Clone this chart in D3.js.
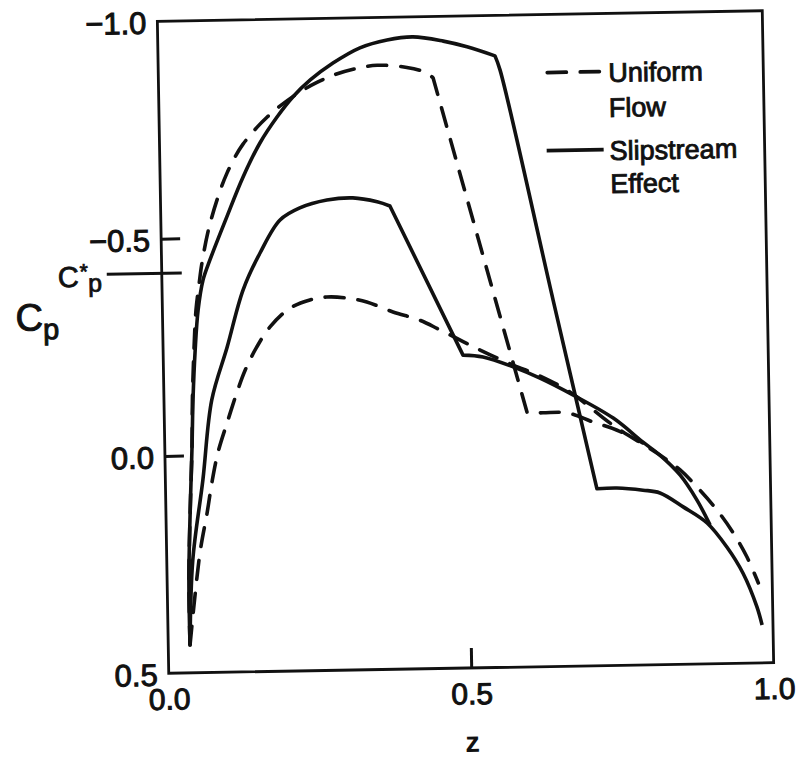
<!DOCTYPE html>
<html><head><meta charset="utf-8">
<script src="https://cdn.jsdelivr.net/npm/d3@7"></script>
<style>
html,body{margin:0;padding:0;background:#fff;}
svg{display:block;}
text{font-family:"Liberation Sans",Arial,Helvetica,sans-serif;fill:#111;}
</style></head><body>
<svg id="chart" width="804" height="758"></svg>
<script>
// ---- data ----
const zTicks = [0.0, 0.5, 1.0];
const zTickLabels = ["0.0", "0.5", "1.0"];
const cpTicks = [-1.0, -0.5, 0.0, 0.5];
const cpTickLabels = ["\u22121.0", "\u22120.5", "0.0", "0.5"];
const cpStar = -0.42;
const legendLabels = [["Uniform", "Flow"], ["Slipstream", "Effect"]];

// Uniform flow, upper branch (peak ~ -0.89)
const uniformUpperZ  = [0.036,0.036,0.040,0.045,0.047,0.051,0.0555,0.0612,0.0667,0.0793,0.0986,0.1107,0.1245,0.138,0.1615,0.1784,0.200,0.2337,0.262,0.289,0.322,0.362,0.411,0.441,0.454,0.600,0.626,0.666,0.708,0.748,0.790];
const uniformUpperCp = [0.436,0.286,0.132,-0.019,-0.128,-0.242,-0.334,-0.392,-0.442,-0.523,-0.607,-0.648,-0.685,-0.714,-0.752,-0.775,-0.800,-0.832,-0.853,-0.869,-0.882,-0.890,-0.884,-0.872,-0.859,-0.084,-0.084,-0.083,-0.061,-0.041,-0.011];
const uniformUpperCorners = [0.454, 0.600];

// Uniform flow, lower branch (peak ~ -0.36)
const uniformLowerZ  = [0.036,0.055,0.068,0.077,0.088,0.104,0.121,0.135,0.155,0.177,0.211,0.244,0.272,0.305,0.338,0.381,0.425,0.458,0.524,0.578,0.622,0.671,0.741,0.813,0.851,0.883,0.911,0.937,0.959,0.977];
const uniformLowerCp = [0.436,0.225,0.133,0.062,-0.007,-0.075,-0.144,-0.194,-0.247,-0.292,-0.335,-0.353,-0.359,-0.356,-0.346,-0.322,-0.302,-0.279,-0.231,-0.195,-0.169,-0.131,-0.053,0.013,0.053,0.100,0.147,0.200,0.256,0.316];
const uniformLowerCorners = [];

// Slipstream effect, upper branch (peak ~ -0.95)
const slipUpperZ  = [0.036,0.036,0.040,0.045,0.048,0.053,0.059,0.068,0.080,0.109,0.137,0.166,0.195,0.222,0.251,0.289,0.334,0.379,0.422,0.472,0.511,0.557,0.565,0.646,0.713,0.746,0.789,0.817,0.855,0.894,0.926,0.952,0.974,0.982];
const slipUpperCp = [0.436,0.286,0.132,-0.019,-0.128,-0.242,-0.334,-0.403,-0.449,-0.547,-0.638,-0.716,-0.775,-0.821,-0.859,-0.897,-0.931,-0.948,-0.954,-0.943,-0.929,-0.907,-0.874,-0.343,0.093,0.092,0.098,0.105,0.138,0.176,0.232,0.293,0.371,0.413];
const slipUpperCorners = [0.557, 0.713];

// Slipstream effect, lower branch (peak ~ -0.59)
const slipLowerZ  = [0.036,0.043,0.062,0.079,0.106,0.134,0.163,0.197,0.230,0.275,0.318,0.358,0.379,0.4955,0.5285,0.578,0.622,0.676,0.742,0.790,0.818,0.851,0.878,0.899];
const slipLowerCp = [0.436,0.241,0.057,-0.127,-0.248,-0.379,-0.463,-0.538,-0.565,-0.582,-0.586,-0.576,-0.566,-0.220,-0.215,-0.191,-0.164,-0.124,-0.069,-0.013,0.018,0.065,0.123,0.181];
const slipLowerCorners = [0.379, 0.4955];

// ---- drawing ----
const INK = "#111";
const FONT = '"Liberation Sans",Arial,sans-serif';
const svg = d3.select("#chart");
svg.append("rect").attr("width", 804).attr("height", 758).attr("fill", "#fff");
const g = svg.append("g").attr("transform", "rotate(-1,465.5,342)");

const x = d3.scaleLinear().domain([0, 1]).range([163, 768]);
const y = d3.scaleLinear().domain([-1, 0.5]).range([16, 668]);

// frame
g.append("rect")
  .attr("x", x(0)).attr("y", y(-1))
  .attr("width", x(1) - x(0)).attr("height", y(0.5) - y(-1))
  .attr("fill", "none").attr("stroke", INK).attr("stroke-width", 2.8);

// inner ticks on y axis
const yInner = g.append("g").attr("transform", `translate(${x(0)},0)`)
  .call(d3.axisRight(y).tickValues(cpTicks.filter(v => v > -1 && v < 0.5)).tickSize(19).tickFormat(""));
yInner.select(".domain").remove();
yInner.selectAll("line").attr("stroke", INK).attr("stroke-width", 3);

// y tick labels
const yLab = g.append("g").attr("transform", `translate(${x(0)},0)`)
  .call(d3.axisLeft(y).tickValues(cpTicks).tickSize(0).tickPadding(11)
    .tickFormat((d, i) => cpTickLabels[i]));
yLab.select(".domain").remove();
yLab.selectAll("text").attr("font-size", 31).attr("font-family", FONT)
  .attr("fill", INK).attr("dy", "0.38em").attr("stroke", INK).attr("stroke-width", 1.0);

// inner tick on x axis
const xInner = g.append("g").attr("transform", `translate(0,${y(0.5)})`)
  .call(d3.axisTop(x).tickValues(zTicks.filter(v => v > 0 && v < 1)).tickSize(20).tickFormat(""));
xInner.select(".domain").remove();
xInner.selectAll("line").attr("stroke", INK).attr("stroke-width", 3);

// x tick labels
const xLab = g.append("g").attr("transform", `translate(0,${y(0.5)})`)
  .call(d3.axisBottom(x).tickValues(zTicks).tickSize(0).tickPadding(15)
    .tickFormat((d, i) => zTickLabels[i]));
xLab.select(".domain").remove();
xLab.selectAll("text").attr("font-size", 30).attr("font-family", FONT)
  .attr("fill", INK).attr("stroke", INK).attr("stroke-width", 1.0);

// Cp* marker
g.append("line")
  .attr("x1", x(0) - 55).attr("x2", x(0) + 20)
  .attr("y1", y(cpStar)).attr("y2", y(cpStar))
  .attr("stroke", INK).attr("stroke-width", 3);
const cs = g.append("text").attr("x", 59).attr("y", y(cpStar) + 12).attr("font-size", 29)
  .attr("stroke", INK).attr("stroke-width", 0.8);
cs.append("tspan").text("C");
cs.append("tspan").attr("dx", 1).attr("dy", -8).attr("font-size", 21).text("*");
cs.append("tspan").attr("dx", 0).attr("dy", 13).attr("font-size", 25).text("p");

// axis titles
const cpT = g.append("text").attr("x", 16).attr("y", 323).attr("font-size", 38)
  .attr("stroke", INK).attr("stroke-width", 1.0);
cpT.append("tspan").text("C");
cpT.append("tspan").attr("dy", 9).attr("font-size", 29).text("p");

g.append("text").attr("x", (x(0) + x(1)) / 2).attr("y", 752).attr("text-anchor", "middle")
  .attr("font-size", 29).attr("font-weight", "bold").text("z");

// curves
function curvePath(zs, cps, corners) {
  const pts = zs.map((z, i) => [x(z), y(cps[i])]);
  const pieces = [];
  let cur = [pts[0]];
  for (let i = 1; i < pts.length; i++) {
    cur.push(pts[i]);
    if (corners.includes(zs[i]) && i < pts.length - 1) { pieces.push(cur); cur = [pts[i]]; }
  }
  pieces.push(cur);
  const line = d3.line().curve(d3.curveCatmullRom.alpha(0.5));
  return pieces.map((p, k) => { const s = line(p); return k === 0 ? s : s.replace(/^M/, "L"); }).join("");
}

const DASH = "19,14";
const series = [
  {z: uniformLowerZ, cp: uniformLowerCp, c: uniformLowerCorners, dash: true},
  {z: uniformUpperZ, cp: uniformUpperCp, c: uniformUpperCorners, dash: true},
  {z: slipLowerZ, cp: slipLowerCp, c: slipLowerCorners, dash: false},
  {z: slipUpperZ, cp: slipUpperCp, c: slipUpperCorners, dash: false}
];
g.selectAll("path.curve").data(series).join("path")
  .attr("class", "curve")
  .attr("d", d => curvePath(d.z, d.cp, d.c))
  .attr("fill", "none").attr("stroke", INK).attr("stroke-width", 3.6)
  .attr("stroke-linejoin", "round")
  .attr("stroke-linecap", d => d.dash ? "round" : "butt")
  .attr("stroke-dasharray", d => d.dash ? DASH : null);

// legend
const leg = g.append("g");
leg.append("line").attr("x1", 552).attr("x2", 606).attr("y1", 74).attr("y2", 74)
  .attr("stroke", INK).attr("stroke-width", 3.8).attr("stroke-linecap", "round").attr("stroke-dasharray", DASH);
leg.append("line").attr("x1", 550).attr("x2", 607).attr("y1", 152).attr("y2", 152)
  .attr("stroke", INK).attr("stroke-width", 3.8);
const legY = [[84.5, 119.5], [162.5, 195.5]];
legendLabels.forEach((lines, i) => {
  lines.forEach((t, j) => {
    leg.append("text").attr("x", 613).attr("y", legY[i][j]).attr("font-size", 27)
      .attr("stroke", INK).attr("stroke-width", 0.9).text(t);
  });
});
</script>
</body></html>
